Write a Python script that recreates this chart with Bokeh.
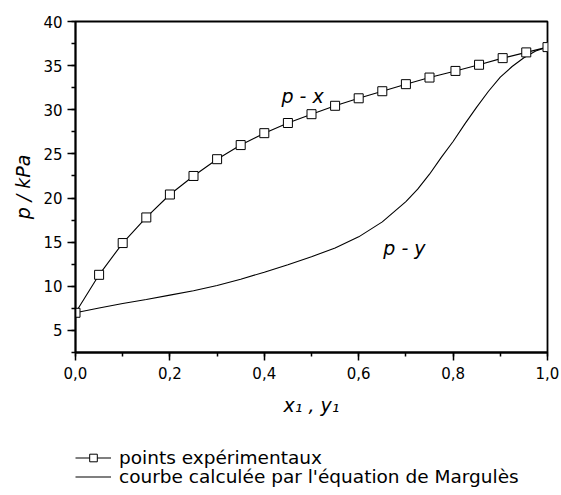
from bokeh.plotting import figure
from bokeh.layouts import column
from bokeh.models import (Range1d, SingleIntervalTicker, CustomJSTickFormatter,
                          Label, Legend, LegendItem)
from bokeh.embed import file_html
from bokeh.resources import INLINE

# Experimental vapour pressure p(x1), kPa
x1_exp = [0.0, 0.05, 0.10, 0.15, 0.20, 0.25, 0.30, 0.35, 0.40, 0.45, 0.50,
          0.55, 0.60, 0.65, 0.70, 0.75, 0.805, 0.855, 0.905, 0.955, 1.0]
p_exp = [7.0, 11.3, 14.9, 17.8, 20.4, 22.5, 24.4, 26.0, 27.35, 28.5, 29.5,
         30.45, 31.3, 32.1, 32.9, 33.65, 34.4, 35.1, 35.85, 36.5, 37.1]

# Dew curve p(y1) from the Margules equation, kPa
y1_calc = [0.0, 0.05, 0.10, 0.15, 0.20, 0.25, 0.30, 0.35, 0.40, 0.45, 0.50,
           0.55, 0.60, 0.65, 0.70, 0.725, 0.75, 0.775, 0.80, 0.825, 0.85,
           0.875, 0.90, 0.925, 0.95, 0.975, 1.0]
p_calc = [7.0, 7.55, 8.05, 8.5, 9.0, 9.5, 10.1, 10.8, 11.6, 12.45, 13.35,
          14.35, 15.6, 17.3, 19.6, 21.0, 22.7, 24.6, 26.4, 28.4, 30.3,
          32.1, 33.7, 34.9, 35.9, 36.65, 37.1]

legend_labels = ["points expérimentaux",
                 "courbe calculée par l'équation de Margulès"]

x_ticks_interval = 0.2
y_ticks_interval = 5

FONT = "DejaVu Sans"
W = 561
MAIN_H = 430
LEG_H = 65

p = figure(width=W, height=MAIN_H, output_backend="svg", toolbar_location=None,
           x_range=Range1d(0, 1.0), y_range=Range1d(2.5, 40),
           min_border_left=75, min_border_right=14, min_border_top=21,
           min_border_bottom=MAIN_H - 352)
p.background_fill_color = "white"
p.border_fill_color = "white"
p.outline_line_color = "black"
p.outline_line_width = 1.8
p.xgrid.visible = False
p.ygrid.visible = False

p.xaxis.ticker = SingleIntervalTicker(interval=x_ticks_interval, num_minor_ticks=2)
p.yaxis.ticker = SingleIntervalTicker(interval=y_ticks_interval, num_minor_ticks=2)
p.xaxis.formatter = CustomJSTickFormatter(code="return tick.toFixed(1).replace('.', ',');")
p.yaxis.formatter = CustomJSTickFormatter(code="return tick.toFixed(0);")

for ax in (p.xaxis, p.yaxis):
    ax.axis_line_width = 1.8
    ax.axis_line_color = "black"
    ax.major_tick_line_width = 1.5
    ax.minor_tick_line_width = 1.5
    ax.major_tick_line_color = "black"
    ax.minor_tick_line_color = "black"
    ax.major_tick_in = 0
    ax.major_tick_out = 8
    ax.minor_tick_in = 0
    ax.minor_tick_out = 4
    ax.major_label_text_font = FONT
    ax.major_label_text_font_size = "15px"
    ax.major_label_text_color = "black"
    ax.axis_label_text_font = FONT
    ax.axis_label_text_font_style = "italic"
    ax.axis_label_text_font_size = "19px"
    ax.axis_label_text_color = "black"
p.xaxis.major_label_standoff = 6
p.yaxis.major_label_standoff = 5
p.xaxis.axis_label = "x\u2081 , y\u2081"
p.yaxis.axis_label = "p / kPa"
p.xaxis.axis_label_standoff = 12
p.yaxis.axis_label_standoff = 6

# Curves and experimental points
r_py = p.line(y1_calc, p_calc, line_color="black", line_width=1.1)
r_px = p.line(x1_exp, p_exp, line_color="black", line_width=1.1)
r_pts = p.scatter(x1_exp, p_exp, marker="square", size=9, fill_color="white",
                  line_color="black", line_width=1)

# Curve labels
def add_text(txt, x, y):
    p.add_layout(Label(x=x, y=y, text=txt, text_font=FONT,
                       text_font_style="italic", text_font_size="19px",
                       text_color="black", text_align="center",
                       text_baseline="middle"))

add_text("p - x", 0.481, 31.6)
add_text("p - y", 0.697, 14.3)

# Key strip under the chart (its ranges keep the sample series out of view)
leg_fig = figure(width=W, height=LEG_H, output_backend="svg", toolbar_location=None,
                 x_range=Range1d(2, 3), y_range=Range1d(0, 1),
                 min_border_left=0, min_border_right=0, min_border_top=0,
                 min_border_bottom=0)
leg_fig.axis.visible = False
leg_fig.grid.visible = False
leg_fig.outline_line_color = None
k_line = leg_fig.line(x1_exp, p_exp, line_color="black", line_width=1.1)
k_pts = leg_fig.scatter(x1_exp, p_exp, marker="square", size=8, fill_color="white",
                        line_color="black", line_width=1)
k_curve = leg_fig.line(y1_calc, p_calc, line_color="black", line_width=1.1)

def add_key(label, renderers, vy):
    leg = Legend(items=[LegendItem(label=label, renderers=renderers)],
                 location=(0, vy), padding=0, margin=0, spacing=0,
                 glyph_width=36, glyph_height=19, label_height=19,
                 label_standoff=8, border_line_color=None,
                 background_fill_alpha=0, label_text_font=FONT,
                 label_text_font_size="18.5px", label_text_color="black")
    leg_fig.add_layout(leg, "center")

add_key(legend_labels[0], [k_line, k_pts], LEG_H - 37.5)
add_key(legend_labels[1], [k_curve], LEG_H - 56.5)

layout = column(p, leg_fig, spacing=0)
open("out.html", "w").write(file_html(layout, INLINE))
